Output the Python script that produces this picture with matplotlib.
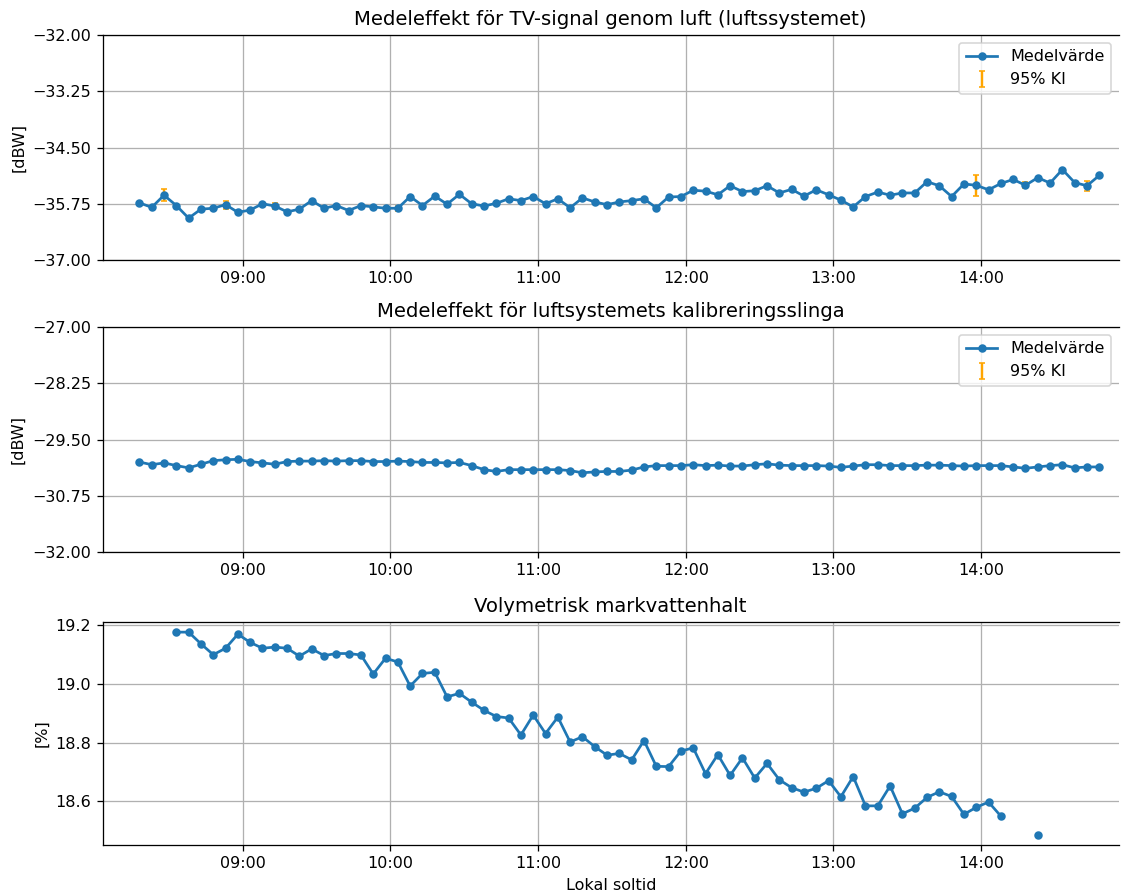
import numpy as np
import pandas as pd
import matplotlib
matplotlib.use("Agg")
import matplotlib.pyplot as plt
import matplotlib.dates as mdates
from matplotlib.ticker import FuncFormatter

# Sampling times (5 min intervals, local solar time)
tider = pd.date_range("2023-06-01 08:18", periods=79, freq="5min")

# Mean power, TV signal through air [dBW]
luft_medel = [
    -35.73, -35.83, -35.56, -35.79, -36.07, -35.87, -35.85, -35.77, -35.94, -35.89,
    -35.75, -35.80, -35.93, -35.87, -35.68, -35.85, -35.79, -35.90, -35.79, -35.82,
    -35.85, -35.85, -35.59, -35.79, -35.58, -35.76, -35.54, -35.75, -35.80, -35.74,
    -35.64, -35.68, -35.59, -35.75, -35.64, -35.84, -35.62, -35.71, -35.77, -35.71,
    -35.68, -35.64, -35.84, -35.60, -35.59, -35.45, -35.47, -35.55, -35.35, -35.48,
    -35.46, -35.35, -35.51, -35.43, -35.58, -35.44, -35.55, -35.67, -35.82, -35.59,
    -35.49, -35.56, -35.51, -35.51, -35.26, -35.35, -35.59, -35.31, -35.34, -35.44,
    -35.30, -35.21, -35.34, -35.17, -35.29, -34.99, -35.28, -35.35, -35.12,
]
luft_ki = [
    0.02, 0.02, 0.13, 0.02, 0.02, 0.02, 0.02, 0.09, 0.02, 0.02,
    0.02, 0.07, 0.02, 0.02, 0.02, 0.02, 0.02, 0.02, 0.02, 0.02,
    0.02, 0.06, 0.02, 0.02, 0.02, 0.02, 0.02, 0.02, 0.02, 0.02,
    0.02, 0.02, 0.02, 0.02, 0.02, 0.02, 0.02, 0.02, 0.02, 0.02,
    0.02, 0.02, 0.02, 0.02, 0.02, 0.02, 0.02, 0.02, 0.02, 0.02,
    0.02, 0.02, 0.02, 0.02, 0.02, 0.02, 0.02, 0.02, 0.02, 0.02,
    0.02, 0.02, 0.02, 0.02, 0.02, 0.02, 0.02, 0.02, 0.23, 0.02,
    0.02, 0.02, 0.07, 0.02, 0.02, 0.02, 0.02, 0.11, 0.02,
]

# Mean power, calibration loop [dBW]
kalib_medel = [
    -30.00, -30.06, -30.02, -30.08, -30.13, -30.05, -29.97, -29.95, -29.94, -29.99,
    -30.02, -30.05, -29.99, -29.98, -29.98, -29.97, -29.98, -29.97, -29.97, -29.99,
    -29.99, -29.98, -29.99, -30.01, -30.01, -30.02, -30.01, -30.08, -30.17, -30.21,
    -30.17, -30.17, -30.17, -30.17, -30.17, -30.19, -30.24, -30.22, -30.21, -30.21,
    -30.18, -30.11, -30.08, -30.08, -30.08, -30.06, -30.08, -30.07, -30.09, -30.09,
    -30.06, -30.04, -30.07, -30.08, -30.08, -30.08, -30.09, -30.12, -30.09, -30.06,
    -30.06, -30.08, -30.08, -30.08, -30.07, -30.07, -30.08, -30.09, -30.08, -30.08,
    -30.08, -30.11, -30.14, -30.11, -30.08, -30.06, -30.13, -30.11, -30.11,
]
kalib_ki = [0.01] * 79

# Volumetric soil water content [%]
nan = np.nan
markvatten = [
    nan, nan, nan, 19.177, 19.177, 19.137, 19.100, 19.122, 19.170, 19.142,
    19.122, 19.126, 19.122, 19.095, 19.120, 19.097, 19.104, 19.104, 19.099, 19.034,
    19.088, 19.075, 18.993, 19.036, 19.040, 18.956, 18.968, 18.938, 18.910, 18.889,
    18.884, 18.826, 18.894, 18.831, 18.887, 18.802, 18.820, 18.786, 18.757, 18.763,
    18.741, 18.807, 18.719, 18.718, 18.771, 18.782, 18.694, 18.759, 18.688, 18.748,
    18.679, 18.729, 18.673, 18.646, 18.631, 18.644, 18.670, 18.615, 18.684, 18.584,
    18.584, 18.652, 18.557, 18.576, 18.613, 18.632, 18.616, 18.555, 18.579, 18.597,
    18.549, nan, nan, 18.485, nan, nan, nan, nan, nan,
]

W, H = 1122, 895
dpi = 115
fig = plt.figure(figsize=(W / dpi, H / dpi), dpi=dpi)

def px_axes(left, top, right, bottom):
    return fig.add_axes([left / W, 1 - bottom / H, (right - left) / W, (bottom - top) / H])

ax1 = px_axes(102.5, 35, 1119, 260)
ax2 = px_axes(102.5, 327, 1119, 552)
ax3 = px_axes(102.5, 622, 1119, 845)

xlim = (pd.Timestamp("2023-06-01 08:03"), pd.Timestamp("2023-06-01 14:56"))

def fmt(decimals):
    return FuncFormatter(lambda v, pos: f"{v:.{decimals}f}".replace("-", "\u2212"))

def effekt_panel(ax, medel, ki, titel, ylim):
    line_h, = ax.plot(tider, medel, "-o", color="tab:blue", markersize=4.3,
                      linewidth=1.7, zorder=2)
    ki_h = ax.errorbar(tider, medel, yerr=ki, fmt="none", ecolor="orange",
                       elinewidth=1.5, capsize=2, zorder=1.5)
    ax.legend([line_h, ki_h], ["Medelvärde", "95% KI"], loc="upper right")
    ax.set_title(titel, fontsize=12.3)
    ax.set_ylabel("[dBW]")
    ax.set_ylim(*ylim)
    ax.set_yticks(np.linspace(ylim[0], ylim[1], 5))
    ax.yaxis.set_major_formatter(fmt(2))

effekt_panel(ax1, luft_medel, luft_ki,
             "Medeleffekt för TV-signal genom luft (luftssystemet)", (-37, -32))
effekt_panel(ax2, kalib_medel, kalib_ki,
             "Medeleffekt för luftsystemets kalibreringsslinga", (-32, -27))

ax3.plot(tider, markvatten, "-o", color="tab:blue", markersize=4.3, linewidth=1.7)
ax3.set_title("Volymetrisk markvattenhalt", fontsize=12.3)
ax3.set_ylabel("[%]")
ax3.set_xlabel("Lokal soltid")
ax3.set_yticks([18.6, 18.8, 19.0, 19.2])
ax3.yaxis.set_major_formatter(fmt(1))

for ax in (ax1, ax2, ax3):
    ax.set_xlim(*xlim)
    ax.xaxis.set_major_locator(mdates.HourLocator())
    ax.xaxis.set_major_formatter(mdates.DateFormatter("%H:%M"))
    ax.grid(True)
    ax.spines["right"].set_visible(False)

fig.savefig("out.png", dpi=dpi)
